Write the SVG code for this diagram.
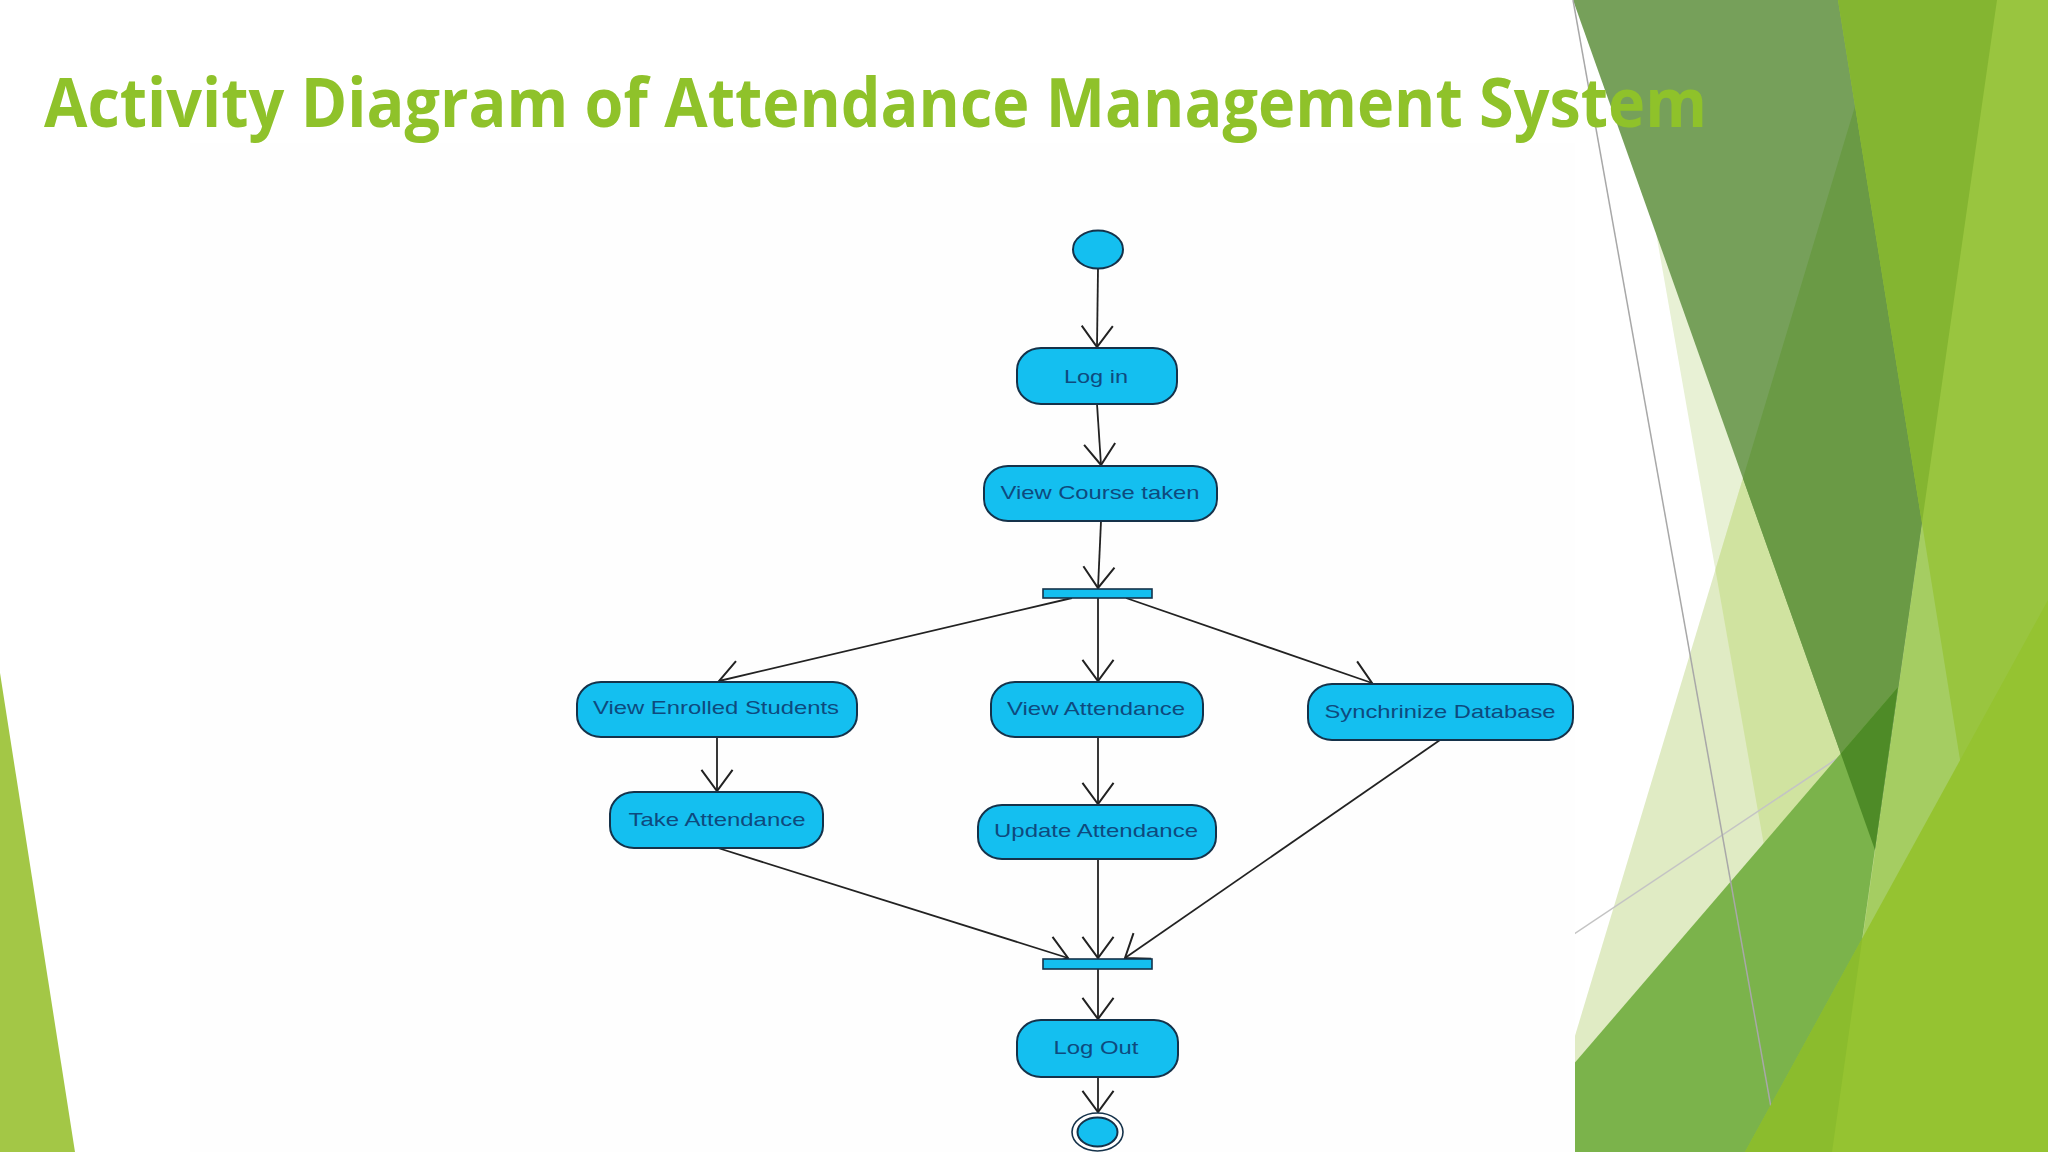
<svg xmlns="http://www.w3.org/2000/svg" width="2048" height="1152" viewBox="0 0 2048 1152">
<style>
.node{fill:#14BFF0;stroke:#15324A;stroke-width:2}
.bar{fill:#14BFF0;stroke:#15324A;stroke-width:1.6}
.lbl{font-family:"Liberation Sans",Arial,sans-serif;font-size:19px;fill:#0E4A7E;text-anchor:middle}
.edge{fill:none;stroke:#222;stroke-width:1.8}
.title{font-family:"Open Sans","Liberation Sans",sans-serif;font-weight:700;font-size:68px;fill:#8FC22A}
</style>
<defs>
<marker id="arr" markerUnits="userSpaceOnUse" markerWidth="40" markerHeight="40" viewBox="-22 -18 26 36" refX="0" refY="0" orient="auto">
<path d="M-19,-14 L0,0 L-19,14" fill="none" stroke="#222" stroke-width="1.8"/>
</marker>
<clipPath id="cS3"><polygon points="1887,0 2048,0 2048,1152 1540,1152"/></clipPath>
<clipPath id="cS1"><polygon points="1573,0 1997,0 1875,850"/></clipPath>
<clipPath id="cM"><polygon points="1498,1152 1898,687 1832,1152"/></clipPath>
</defs>
<rect width="2048" height="1152" fill="#FFFFFF"/>
<!-- background facets -->
<polygon points="0,673 75,1152 0,1152" fill="#A3C746"/>
<polygon points="1615,0 2048,0 2048,1152 1818,1152" fill="#E8F1D5"/>
<polygon points="1887,0 2048,0 2048,1152 1540,1152" fill="#E0EBC4"/>
<polygon points="1615,0 2048,0 2048,1152 1818,1152" fill="#D0E3A0" clip-path="url(#cS3)"/>
<line x1="1247" y1="1152" x2="2048" y2="618" stroke="#C4C4C4" stroke-width="1.5"/>
<polygon points="1922,523 2048,523 2048,1152 1832,1152" fill="#A5CD62"/>
<polygon points="1573,0 1997,0 1875,850" fill="#76A05A"/>
<polygon points="1573,0 1997,0 1875,850" fill="#6A9A45" clip-path="url(#cS3)"/>
<polygon points="1838,0 2048,0 2048,1152 2023,1152" fill="#99C53F"/>
<polygon points="1838,0 2048,0 2048,1152 2023,1152" fill="#84B531" clip-path="url(#cS1)"/>
<polygon points="1498,1152 1898,687 1832,1152" fill="#7BB34B"/>
<polygon points="1498,1152 1898,687 1832,1152" fill="#4E8B27" clip-path="url(#cS1)"/>
<line x1="1573" y1="0" x2="1779" y2="1152" stroke="#A8A8A8" stroke-width="1.5"/>
<polygon points="1745,1152 2048,600 2048,1152" fill="#95C331"/>
<polygon points="1745,1152 2048,600 2048,1152" fill="#8BBC2D" clip-path="url(#cM)"/>
<!-- pasted diagram area -->
<rect x="190" y="143" width="1385" height="1009" fill="#FEFEFE"/>
<text class="title" x="44" y="127" textLength="1663" lengthAdjust="spacingAndGlyphs">Activity Diagram of Attendance Management System</text>

<g id="connectors">
<line class="edge" x1="1098" y1="268" x2="1097" y2="347" marker-end="url(#arr)"/>
<line class="edge" x1="1097" y1="404" x2="1101" y2="465" marker-end="url(#arr)"/>
<line class="edge" x1="1101" y1="521" x2="1098" y2="588" marker-end="url(#arr)"/>
<line class="edge" x1="1072" y1="598" x2="719" y2="681" marker-end="url(#arr)"/>
<line class="edge" x1="1098" y1="598" x2="1098" y2="681" marker-end="url(#arr)"/>
<line class="edge" x1="1126" y1="598" x2="1372" y2="683" marker-end="url(#arr)"/>
<line class="edge" x1="717" y1="737" x2="717" y2="791" marker-end="url(#arr)"/>
<line class="edge" x1="1098" y1="737" x2="1098" y2="804" marker-end="url(#arr)"/>
<line class="edge" x1="718" y1="848" x2="1068" y2="958" marker-end="url(#arr)"/>
<line class="edge" x1="1098" y1="859" x2="1098" y2="958" marker-end="url(#arr)"/>
<line class="edge" x1="1440" y1="740" x2="1125" y2="958" marker-end="url(#arr)"/>
<line class="edge" x1="1098" y1="969" x2="1098" y2="1019" marker-end="url(#arr)"/>
<line class="edge" x1="1098" y1="1077" x2="1098" y2="1112" marker-end="url(#arr)"/>
</g>

<g id="start"><ellipse class="node" cx="1098" cy="249.5" rx="25" ry="19"/></g>
<g id="login"><rect class="node" x="1017" y="348" width="160" height="56" rx="24" ry="22"/><text class="lbl" x="1096" y="383" textLength="64" lengthAdjust="spacingAndGlyphs">Log in</text></g>
<g id="viewcourse"><rect class="node" x="984" y="466" width="233" height="55" rx="24" ry="22"/><text class="lbl" x="1100" y="499" textLength="199" lengthAdjust="spacingAndGlyphs">View Course taken</text></g>
<g id="fork"><rect class="bar" x="1043" y="589" width="109" height="9"/></g>
<g id="viewenrolled"><rect class="node" x="577" y="682" width="280" height="55" rx="24" ry="22"/><text class="lbl" x="716" y="714" textLength="246" lengthAdjust="spacingAndGlyphs">View Enrolled Students</text></g>
<g id="viewattendance"><rect class="node" x="991" y="682" width="212" height="55" rx="24" ry="22"/><text class="lbl" x="1096" y="715" textLength="178" lengthAdjust="spacingAndGlyphs">View Attendance</text></g>
<g id="syncdb"><rect class="node" x="1308" y="684" width="265" height="56" rx="24" ry="22"/><text class="lbl" x="1440" y="718" textLength="231" lengthAdjust="spacingAndGlyphs">Synchrinize Database</text></g>
<g id="takeattendance"><rect class="node" x="610" y="792" width="213" height="56" rx="24" ry="22"/><text class="lbl" x="717" y="826" textLength="177" lengthAdjust="spacingAndGlyphs">Take Attendance</text></g>
<g id="updateattendance"><rect class="node" x="978" y="805" width="238" height="54" rx="24" ry="22"/><text class="lbl" x="1096" y="837" textLength="204" lengthAdjust="spacingAndGlyphs">Update Attendance</text></g>
<g id="join"><rect class="bar" x="1043" y="959" width="109" height="10"/></g>
<g id="logout"><rect class="node" x="1017" y="1020" width="161" height="57" rx="24" ry="22"/><text class="lbl" x="1096" y="1054" textLength="85" lengthAdjust="spacingAndGlyphs">Log Out</text></g>
<g id="end"><ellipse cx="1097.5" cy="1132" rx="25.5" ry="19" fill="#FFFFFF" stroke="#15324A" stroke-width="1.6"/><ellipse class="node" cx="1097.5" cy="1132" rx="20" ry="14.5"/></g>
</svg>
